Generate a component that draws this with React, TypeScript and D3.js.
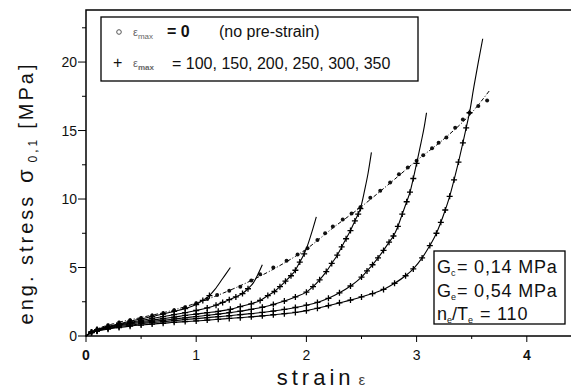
import React from "react";
import * as d3 from "d3";

type P = [number, number];

// no pre-strain: measured points (circles) and model line (dash-dot)
const noPreMarkers: P[] = [
  [0.05, 0.3], [0.1, 0.5], [0.2, 0.78], [0.3, 0.98], [0.4, 1.15], [0.5, 1.32], [0.6, 1.5], [0.7, 1.67],
  [0.8, 1.88], [0.9, 2.1], [1.0, 2.4], [1.1, 2.7], [1.19, 3.0], [1.3, 3.3], [1.4, 3.6], [1.5, 4.05],
  [1.58, 4.5], [1.7, 5.0], [1.82, 5.5], [1.92, 5.95], [2.01, 6.4], [2.1, 7.0], [2.17, 7.5], [2.24, 8.0],
  [2.33, 8.5], [2.41, 8.95], [2.49, 9.4], [2.58, 10.1], [2.67, 10.6], [2.76, 11.2], [2.84, 11.8],
  [2.92, 12.3], [3.0, 12.8], [3.06, 13.2], [3.14, 13.7], [3.2, 14.1], [3.27, 14.5], [3.35, 15.2],
  [3.42, 15.8], [3.48, 16.3], [3.56, 16.8], [3.64, 17.2],
];
const noPreModel: P[] = [
  [0, 0], [0.1, 0.5], [0.25, 0.9], [0.5, 1.35], [0.75, 1.8], [1.0, 2.4], [1.25, 3.15], [1.5, 4.05],
  [1.75, 5.1], [2.0, 6.35], [2.25, 7.95], [2.5, 9.45], [2.75, 11.1], [3.0, 12.8], [3.25, 14.4],
  [3.5, 16.3], [3.66, 17.9],
];

// pre-strained samples (max = 100 ... 350): measured points (+)
const pre100: P[] = [
  [0.05, 0.3], [0.1, 0.47], [0.2, 0.7], [0.3, 0.9], [0.4, 1.08], [0.5, 1.25], [0.6, 1.42], [0.7, 1.6],
  [0.8, 1.8], [0.9, 2.0], [1.0, 2.3], [1.06, 2.6], [1.12, 2.95],
];
const pre150: P[] = [
  [0.05, 0.3], [0.1, 0.45], [0.2, 0.66], [0.3, 0.84], [0.4, 1.0], [0.5, 1.14], [0.6, 1.28], [0.7, 1.42],
  [0.8, 1.56], [0.9, 1.7], [1.0, 1.86], [1.1, 2.05], [1.18, 2.25], [1.24, 2.45], [1.3, 2.65],
  [1.36, 2.85], [1.42, 3.1], [1.47, 3.45],
];
const pre200: P[] = [
  [0.05, 0.28], [0.1, 0.42], [0.2, 0.63], [0.3, 0.8], [0.4, 0.94], [0.5, 1.06], [0.6, 1.16], [0.7, 1.27],
  [0.8, 1.38], [0.9, 1.5], [1.0, 1.6], [1.1, 1.7], [1.2, 1.8], [1.31, 1.95], [1.4, 2.15], [1.5, 2.35],
  [1.58, 2.6], [1.65, 2.95], [1.71, 3.25], [1.76, 3.6], [1.81, 4.0], [1.86, 4.4], [1.9, 4.8],
  [1.94, 5.4], [1.98, 6.0],
];
const pre250: P[] = [
  [0.05, 0.27], [0.1, 0.4], [0.2, 0.6], [0.3, 0.75], [0.4, 0.88], [0.5, 0.98], [0.6, 1.07], [0.7, 1.15],
  [0.8, 1.24], [0.9, 1.33], [1.0, 1.42], [1.1, 1.51], [1.2, 1.6], [1.3, 1.7], [1.4, 1.81], [1.5, 1.95],
  [1.6, 2.1], [1.7, 2.3], [1.8, 2.55], [1.9, 2.85], [2.0, 3.2], [2.06, 3.6], [2.12, 4.1], [2.18, 4.7],
  [2.23, 5.3], [2.28, 5.9], [2.32, 6.5], [2.36, 7.1], [2.4, 7.7], [2.44, 8.4], [2.47, 8.9], [2.49, 9.3],
];
const pre300: P[] = [
  [0.05, 0.25], [0.1, 0.37], [0.2, 0.55], [0.3, 0.68], [0.4, 0.8], [0.5, 0.9], [0.6, 0.98], [0.7, 1.05],
  [0.8, 1.12], [0.9, 1.2], [1.0, 1.27], [1.1, 1.34], [1.2, 1.41], [1.3, 1.48], [1.4, 1.56], [1.5, 1.64],
  [1.6, 1.72], [1.7, 1.82], [1.8, 1.94], [1.9, 2.08], [2.0, 2.25], [2.1, 2.45], [2.2, 2.75], [2.3, 3.15],
  [2.4, 3.65], [2.5, 4.3], [2.55, 4.75], [2.6, 5.2], [2.65, 5.7], [2.7, 6.25], [2.75, 6.85], [2.79, 7.3],
  [2.83, 8.0], [2.87, 8.9], [2.91, 9.8], [2.94, 10.5], [2.97, 11.5], [3.0, 12.6],
];
const pre350: P[] = [
  [0.05, 0.25], [0.1, 0.35], [0.2, 0.5], [0.3, 0.62], [0.4, 0.72], [0.5, 0.8], [0.6, 0.87], [0.7, 0.93],
  [0.8, 1.0], [0.9, 1.05], [1.0, 1.1], [1.1, 1.16], [1.2, 1.22], [1.3, 1.28], [1.4, 1.34], [1.5, 1.4],
  [1.6, 1.47], [1.7, 1.55], [1.8, 1.63], [1.9, 1.72], [2.0, 1.85], [2.1, 2.02], [2.2, 2.22], [2.3, 2.42],
  [2.4, 2.62], [2.5, 2.85], [2.6, 3.1], [2.7, 3.4], [2.8, 3.85], [2.9, 4.4], [2.97, 4.9], [3.05, 5.7],
  [3.12, 6.6], [3.18, 7.5], [3.22, 8.3], [3.26, 9.2], [3.3, 10.2], [3.34, 11.4], [3.38, 12.7],
  [3.42, 14.1], [3.45, 15.2], [3.48, 16.3],
];

// model curves continue past the last measured point
const ext100: P[] = [[1.17, 3.4], [1.24, 4.2], [1.31, 5.0]];
const ext150: P[] = [[1.52, 3.9], [1.56, 4.5], [1.6, 5.2]];
const ext200: P[] = [[2.01, 6.6], [2.05, 7.6], [2.09, 8.7]];
const ext250: P[] = [[2.53, 10.7], [2.56, 11.9], [2.59, 13.4]];
const ext300: P[] = [[3.04, 14.1], [3.07, 15.3], [3.09, 16.3]];
const ext350: P[] = [[3.52, 18.2], [3.56, 20.0], [3.6, 21.7]];

const preSeries: P[][] = [pre100, pre150, pre200, pre250, pre300, pre350];
const preExt: P[][] = [ext100, ext150, ext200, ext250, ext300, ext350];

const xTicks = [0, 1, 2, 3, 4];
const xMinor = [0.5, 1.5, 2.5, 3.5, 4.5];
const yTicks = [0, 5, 10, 15, 20];
const yMinor = [2.5, 7.5, 12.5, 17.5, 22.5];

const W = 571;
const H = 389;
const x = d3.scaleLinear().domain([0, 4.5]).range([86, 86 + 4.5 * 110.2]);
const y = d3.scaleLinear().domain([0, 23.8]).range([336, 10]);

const line = d3
  .line<P>()
  .x((d) => x(d[0]))
  .y((d) => y(d[1]))
  .curve(d3.curveMonotoneX);

const FONT = "'Liberation Sans', Arial, Helvetica, sans-serif";

export default function App() {
  return (
    <svg
      width={W}
      height={H}
      style={{ position: "absolute", left: 0, top: 0, background: "#fff" }}
      fontFamily={FONT}
    >
      <rect x={0} y={0} width={W} height={H} fill="#fff" />
      {/* frame */}
      <rect x={x(0)} y={y(23.8)} width={x(4.5) - x(0)} height={y(0) - y(23.8)} fill="none" stroke="#000" strokeWidth={1.5} />

      {/* y ticks */}
      {yTicks.map((t) => (
        <g key={"y" + t}>
          <line x1={x(0) - 8} x2={x(0)} y1={y(t)} y2={y(t)} stroke="#000" strokeWidth={1} />
          <text x={x(0) - 9} y={y(t) + 5} fontSize={14} textAnchor="end" fill="#111">
            {t}
          </text>
        </g>
      ))}
      {yMinor.map((t) => (
        <line key={"ym" + t} x1={x(0) - 4} x2={x(0)} y1={y(t)} y2={y(t)} stroke="#000" strokeWidth={1} />
      ))}
      {/* x ticks */}
      {xTicks.map((t) => (
        <g key={"x" + t}>
          <line x1={x(t)} x2={x(t)} y1={y(0)} y2={y(0) + 6} stroke="#000" strokeWidth={1} />
          <text x={x(t)} y={y(0) + 24} fontSize={14} textAnchor="middle" fill="#111" fontWeight={t === 0 || t === 4 ? "bold" : "normal"}>
            {t}
          </text>
        </g>
      ))}
      {xMinor.map((t) => (
        <line key={"xm" + t} x1={x(t)} x2={x(t)} y1={y(0)} y2={y(0) + 3} stroke="#000" strokeWidth={1} />
      ))}

      {/* axis titles */}
      <text x={323} y={385} fontSize={22} textAnchor="middle" letterSpacing={4} fill="#111">
        strain
        <tspan fontSize={15} fill="#444" dx={4}>ε</tspan>
      </text>
      <text transform="translate(33,193) rotate(-90)" fontSize={20} textAnchor="middle" letterSpacing={3} fill="#111">
        {"eng. stress "}
        <tspan fontSize={22} dx={2}>σ</tspan>
        <tspan fontSize={12} dy={4} dx={4}>0,1</tspan>
        <tspan dy={-4} dx={8}>[MPa]</tspan>
      </text>

      {/* no pre-strain */}
      <path d={line(noPreModel) || ""} fill="none" stroke="#000" strokeWidth={1} strokeDasharray="4,2,1,2" />
      {noPreMarkers.map((d, i) => (
        <circle key={"c" + i} cx={x(d[0])} cy={y(d[1])} r={2} fill="#111" />
      ))}

      {/* pre-strained */}
      {preSeries.map((s, k) => (
        <g key={"s" + k}>
          <path d={line([[0, 0] as P, ...s, ...preExt[k]]) || ""} fill="none" stroke="#000" strokeWidth={1.1} />
          {s.map((d, i) => (
            <path
              key={i}
              d={`M${x(d[0]) - 3},${y(d[1])}H${x(d[0]) + 3}M${x(d[0])},${y(d[1]) - 3}V${y(d[1]) + 3}`}
              stroke="#000"
              strokeWidth={1.3}
            />
          ))}
        </g>
      ))}

      {/* legend */}
      <rect x={101} y={17} width={317} height={64} fill="#fff" stroke="#000" strokeWidth={1.3} />
      <circle cx={119} cy={32} r={2.3} fill="none" stroke="#555" strokeWidth={1} />
      <text x={133} y={36} fontSize={11} fill="#666">
        ε<tspan fontSize={8} dy={3}>max</tspan>
      </text>
      <text x={167} y={37} fontSize={16} fill="#111">
        <tspan fontWeight="bold">= 0</tspan>
        <tspan x={219}>(no pre-strain)</tspan>
      </text>
      <text x={113} y={68} fontSize={16} fill="#111">+</text>
      <text x={133} y={67} fontSize={11} fill="#666">
        ε<tspan fontSize={8} dy={3} fontWeight="bold">max</tspan>
      </text>
      <text x={172} y={69} fontSize={16} fill="#111">= 100, 150, 200, 250, 300, 350</text>

      {/* parameter box */}
      <rect x={434} y={251} width={131} height={73} fill="#fff" stroke="#000" strokeWidth={1.3} />
      <text x={437} y={273} fontSize={18} fill="#111">
        G<tspan fontSize={9} dy={3}>c</tspan>
        <tspan x={457} dy={-3} letterSpacing={0.8}>= 0,14 MPa</tspan>
      </text>
      <text x={437} y={297} fontSize={18} fill="#111">
        G<tspan fontSize={9} dy={3}>e</tspan>
        <tspan x={457} dy={-3} letterSpacing={0.8}>= 0,54 MPa</tspan>
      </text>
      <text x={437} y={320} fontSize={18} fill="#111">
        n<tspan fontSize={9} dy={3}>e</tspan>
        <tspan dy={-3}>/T</tspan>
        <tspan fontSize={9} dy={3}>e</tspan>
        <tspan x={480} dy={-3} letterSpacing={0.8}>= 110</tspan>
      </text>
    </svg>
  );
}
